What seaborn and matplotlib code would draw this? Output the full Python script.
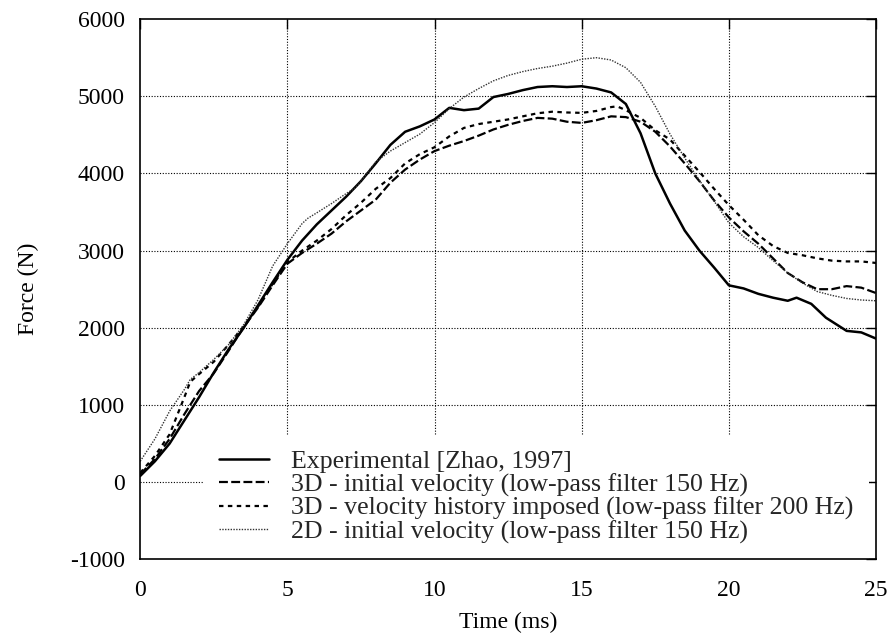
import matplotlib
matplotlib.use("Agg")
import matplotlib.pyplot as plt
import seaborn as sns
import numpy as np
import pandas as pd

# ---- data ----
t_exp = [0, 0.5, 1.0, 1.5, 2.0, 2.5, 3.0, 3.5, 4.0, 4.5, 5.0, 5.5, 6.0, 6.5, 7.0, 7.5,
         8.0, 8.5, 9.0, 9.5, 10.0, 10.5, 11.0, 11.5, 12.0, 12.5, 13.0, 13.5, 14.0, 14.5,
         15.0, 15.5, 16.0, 16.5, 17.0, 17.5, 18.0, 18.5, 19.0, 19.5, 20.0, 20.5, 21.0,
         21.5, 22.0, 22.3, 22.8, 23.3, 24.0, 24.5, 25.0]
f_exp = [80, 270, 500, 800, 1100, 1420, 1720, 1990, 2290, 2590, 2880, 3130, 3340, 3520,
         3700, 3900, 4130, 4370, 4540, 4610, 4700, 4850, 4820, 4840, 4990, 5030, 5080,
         5120, 5130, 5120, 5130, 5100, 5050, 4900, 4520, 4000, 3610, 3260, 3000, 2780,
         2550, 2510, 2440, 2390, 2350, 2390, 2310, 2130, 1960, 1940, 1860]

t_3d_iv = [0, 0.5, 1.0, 1.5, 2.0, 2.5, 3.0, 3.5, 4.0, 4.5, 5.0, 5.5, 6.0, 6.5, 7.0, 7.5,
           8.0, 8.5, 9.0, 9.5, 10.0, 10.5, 11.0, 11.5, 12.0, 12.5, 13.0, 13.5, 14.0, 14.5,
           15.0, 15.5, 16.0, 16.5, 17.0, 17.5, 18.0, 18.5, 19.0, 19.5, 20.0, 20.5, 21.0,
           21.5, 22.0, 22.5, 23.0, 23.5, 24.0, 24.5, 25.0]
f_3d_iv = [100, 300, 560, 880, 1180, 1410, 1700, 2000, 2260, 2550, 2830, 2970, 3090, 3220,
           3380, 3520, 3660, 3880, 4050, 4180, 4290, 4360, 4420, 4490, 4570, 4630, 4680,
           4720, 4710, 4670, 4655, 4690, 4740, 4730, 4670, 4540, 4350, 4130, 3900, 3650,
           3430, 3250, 3090, 2900, 2710, 2590, 2500, 2500, 2540, 2520, 2450]

t_3d_vh = [0, 0.5, 1.0, 1.5, 1.7, 2.0, 2.5, 3.0, 3.5, 4.0, 4.5, 5.0, 5.5, 6.0, 6.5, 7.0,
           7.5, 8.0, 8.5, 9.0, 9.5, 10.0, 10.5, 11.0, 11.5, 12.0, 12.5, 13.0, 13.5, 14.0,
           14.5, 15.0, 15.5, 16.0, 16.2, 16.5, 17.0, 17.5, 18.0, 18.5, 19.0, 19.5, 20.0,
           20.5, 21.0, 21.5, 22.0, 22.5, 23.0, 23.5, 24.0, 24.5, 25.0]
f_3d_vh = [120, 340, 620, 1100, 1300, 1400, 1560, 1780, 2010, 2270, 2570, 2850, 3000, 3130,
           3280, 3460, 3620, 3800, 3940, 4130, 4250, 4340, 4480, 4590, 4640, 4670, 4700,
           4740, 4780, 4800, 4790, 4785, 4810, 4860, 4870, 4820, 4720, 4560, 4440, 4230,
           4020, 3800, 3590, 3400, 3200, 3060, 2970, 2940, 2900, 2870, 2860, 2860, 2840]

t_2d = [0, 0.5, 1.0, 1.5, 1.7, 2.0, 2.5, 3.0, 3.5, 4.0, 4.5, 5.0, 5.5, 5.7, 6.0, 6.5, 7.0,
        7.3, 7.5, 8.0, 8.5, 9.0, 9.5, 10.0, 10.5, 11.0, 11.5, 12.0, 12.5, 13.0, 13.5, 14.0,
        14.5, 15.0, 15.5, 16.0, 16.5, 17.0, 17.5, 18.0, 18.5, 19.0, 19.5, 20.0, 20.5,
        21.0, 21.5, 22.0, 22.5, 23.0, 23.5, 24.0, 24.5, 25.0]
f_2d = [270, 560, 920, 1200, 1330, 1420, 1590, 1780, 2030, 2360, 2800, 3090, 3350, 3420,
        3490, 3610, 3740, 3810, 3900, 4150, 4290, 4400, 4510, 4660, 4840, 4990, 5100, 5200,
        5270, 5320, 5360, 5390, 5430, 5480, 5500, 5470, 5370, 5180, 4870, 4510, 4200, 3910,
        3640, 3360, 3180, 3040, 2870, 2710, 2580, 2470, 2420, 2380, 2360, 2350]

labels = ["Experimental [Zhao, 1997]",
          "3D - initial velocity (low-pass filter 150 Hz)",
          "3D - velocity history imposed (low-pass filter 200 Hz)",
          "2D - initial velocity (low-pass filter 150 Hz)"]

x_ticks = [0, 5, 10, 15, 20, 25]
y_ticks = [-1000, 0, 1000, 2000, 3000, 4000, 5000, 6000]

# ---- style ----
sns.set_theme(style="white")
plt.rcParams['font.family'] = ['Liberation Serif', 'DejaVu Serif']
plt.rcParams['axes.unicode_minus'] = False

fig = plt.figure(figsize=(8.93, 6.37), dpi=100)
ax = fig.add_axes([0.157, 0.122, 0.824, 0.848])

# grid lines (drawn low so legend can cover them, ticks stay on top)
for xv in x_ticks[1:-1]:
    ax.axvline(xv, color='black', lw=0.8, ls=(0, (1, 1.5)), zorder=0.5)
for yv in y_ticks[1:-1]:
    ax.axhline(yv, color='black', lw=0.8, ls=(0, (1, 1.5)), zorder=0.5)

series = [
    (t_exp, f_exp, dict(color='black', lw=1.8, linestyle='-')),
    (t_3d_iv, f_3d_iv, dict(color='black', lw=1.6, linestyle=(0, (4, 1.5)))),
    (t_3d_vh, f_3d_vh, dict(color='black', lw=1.6, linestyle=(0, (2, 2)))),
    (t_2d, f_2d, dict(color='#333333', lw=1.0, linestyle=(0, (1, 1)))),
]
for (tx, fy, kw), lab in zip(series, labels):
    df = pd.DataFrame({'t': tx, 'F': fy})
    sns.lineplot(data=df, x='t', y='F', ax=ax, label=lab, zorder=1.5, **kw)

ax.set_xlim(0, 25)
ax.set_ylim(-1000, 6000)
ax.set_xticks(x_ticks)
ax.set_yticks(y_ticks)
ax.tick_params(direction='in', length=7, width=1, top=True, right=True,
               labelsize=17, colors='black')
ax.tick_params(axis='x', pad=15)
ax.tick_params(axis='y', pad=11)
for sp in ax.spines.values():
    sp.set_color('black')
    sp.set_linewidth(1.2)

ax.set_xlabel("Time (ms)", fontsize=17, color='black', labelpad=8)
ax.set_ylabel("Force (N)", fontsize=17, color='black', labelpad=22)

leg = ax.legend(loc='lower left', bbox_to_anchor=(0.0856, 0.0), frameon=True,
                fontsize=18.6, handlelength=1.95, handletextpad=0.85,
                labelspacing=0.0, borderpad=0.6, borderaxespad=0.0, fancybox=False)
leg.get_frame().set_facecolor('white')
leg.get_frame().set_edgecolor('none')
leg.get_frame().set_alpha(1.0)
leg.set_zorder(2)

fig.savefig("out.png", dpi=100)
